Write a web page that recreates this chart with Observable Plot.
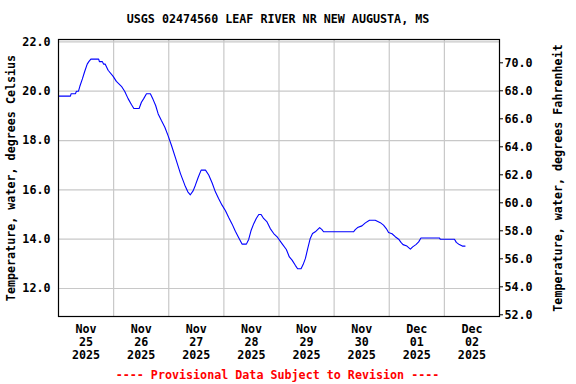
<!DOCTYPE html>
<html>
<head>
<meta charset="utf-8">
<script src="https://cdn.jsdelivr.net/npm/d3@7"></script>
<script src="https://cdn.jsdelivr.net/npm/@observablehq/plot@0.6"></script>
<style>
  html, body { margin: 0; padding: 0; background: #fff; }
  #wrap { position: relative; width: 576px; height: 384px; overflow: hidden; }
  .txt { position: absolute; font-family: "DejaVu Sans Mono", monospace; font-weight: bold; font-size: 11.7px; line-height: 14px; white-space: pre; text-align: center; }
  #title { top: 12px; left: 0; width: 556px; color: #000; }
  #caption { top: 368px; left: 0; width: 555px; color: #ff0000; }
</style>
</head>
<body>
<div id="wrap">
  <div id="chart"></div>
  <div id="title" class="txt"></div>
  <div id="caption" class="txt"></div>
</div>
<script>
// ---- data ----
const titleText = "USGS 02474560 LEAF RIVER NR NEW AUGUSTA, MS";
const captionText = "---- Provisional Data Subject to Revision ----";
const leftLabel = "Temperature, water, degrees Celsius";
const rightLabel = "Temperature, water, degrees Fahrenheit";

// hours since 2025-11-25 00:00
const hours = [0, 5.2, 5.5, 7.4, 7.8, 8.7, 9.3, 10.4, 11.4, 12.5, 13.2, 14.1, 17.5, 17.8, 19.1, 19.6, 20.3,
  21.6, 23.8, 25.2, 27.4, 28.8, 30.3, 31.8, 32.8, 35.1, 36.1, 37.1, 38.3, 40.0, 41.2, 42.3, 43.4, 44.8,
  46.3, 47.7, 49.2, 51.0, 53.1, 55.0, 56.3, 57.4, 58.6, 59.6, 60.8, 62.1, 64.0, 65.4, 66.9, 68.3, 69.7,
  71.2, 72.7, 74.1, 75.6, 77.0, 78.4, 79.9, 81.8, 82.8, 83.8, 85.0, 86.1, 87.2, 88.2, 89.3, 90.8, 92.2,
  93.7, 95.4, 97.3, 99.2, 100.5, 101.7, 103.1, 104.1, 105.6, 106.5, 107.5, 108.5, 109.6, 110.6, 111.8,
  112.8, 113.7, 114.7, 115.4, 128.5, 129.2, 130.2, 132.1, 133.6, 135.4, 137.9, 140.1, 141.5, 142.7,
  143.7, 145.2, 146.6, 148.1, 149.1, 150.0, 151.7, 153.2, 154.2, 155.6, 156.8, 157.8, 165.8, 166.2,
  172.4, 173.2, 174.5, 175.8, 177.0];
const tempC = [19.8, 19.8, 19.9, 19.9, 20.0, 20.0, 20.2, 20.5, 20.8, 21.1, 21.2, 21.3, 21.3, 21.2, 21.2, 21.1, 21.1,
  20.85, 20.6, 20.4, 20.2, 20.0, 19.7, 19.45, 19.3, 19.3, 19.55, 19.7, 19.9, 19.9, 19.66, 19.42, 19.08, 18.81,
  18.54, 18.2, 17.8, 17.28, 16.66, 16.19, 15.92, 15.8, 15.96, 16.19, 16.5, 16.8, 16.8, 16.6, 16.28, 15.92, 15.65,
  15.38, 15.15, 14.88, 14.61, 14.32, 14.07, 13.8, 13.8, 13.99, 14.34, 14.63, 14.84, 15.0, 15.0, 14.84, 14.7, 14.43,
  14.23, 14.07, 13.82, 13.58, 13.28, 13.15, 12.94, 12.8, 12.8, 12.97, 13.22, 13.62, 14.03, 14.23, 14.3,
  14.39, 14.47, 14.39, 14.3, 14.3, 14.39, 14.47, 14.54, 14.66, 14.77, 14.77, 14.67, 14.57, 14.43,
  14.27, 14.22, 14.1, 14.0, 13.87, 13.78, 13.72, 13.6, 13.69, 13.78, 13.89, 14.05, 14.05, 14.0,
  14.0, 13.87, 13.78, 13.72, 13.72];

const tickMonth = ["Nov", "Nov", "Nov", "Nov", "Nov", "Nov", "Dec", "Dec"];
const tickDay = ["25", "26", "27", "28", "29", "30", "01", "02"];
const tickYear = ["2025", "2025", "2025", "2025", "2025", "2025", "2025", "2025"];
const cTicks = [12, 14, 16, 18, 20, 22];
const fTicks = [52, 54, 56, 58, 60, 62, 64, 66, 68, 70];

// ---- build ----
const start = Date.UTC(2025, 10, 25);
const dayMs = 864e5;
const data = hours.map((h, i) => ({ t: new Date(start + h * 3600e3), c: tempC[i] }));
const midnights = d3.range(0, 9).map(i => new Date(start + i * dayMs));
const noons = d3.range(0, 8).map(i => new Date(start + (i + 0.5) * dayMs));

// secondary (Fahrenheit) axis is drawn independently of the Celsius gridlines
const yTop = 39, yBot = 316;
const cDomain = [10.865, 22.097];
const cToPx = c => yBot - (c - cDomain[0]) / (cDomain[1] - cDomain[0]) * (yBot - yTop);
const pxToC = p => cDomain[0] + (yBot - p) / (yBot - yTop) * (cDomain[1] - cDomain[0]);
const fToPx = f => 62.3 + (70 - f) * 14;
const pxToF = p => 70 - (p - 62.3) / 14;
const fToCpos = f => pxToC(fToPx(f));
const cposToF = c => pxToF(cToPx(c));

const font = { fontFamily: "DejaVu Sans Mono", fontSize: 11.7, fontWeight: "bold" };

const chart = Plot.plot({
  width: 576,
  height: 384,
  marginTop: yTop,
  marginBottom: 384 - yBot,
  marginLeft: 58,
  marginRight: 77,
  style: { fontFamily: "DejaVu Sans Mono", fontSize: "11.7px", fontWeight: "bold", background: "#fff", color: "#000" },
  x: { type: "utc", domain: [midnights[0], midnights[8]] },
  y: { domain: cDomain },
  marks: [
    Plot.gridY({ ticks: cTicks, stroke: "#c8c8c8", strokeOpacity: 1, strokeWidth: 1.2 }),
    Plot.gridX({ ticks: midnights.slice(1, 8), stroke: "#c8c8c8", strokeOpacity: 1, strokeWidth: 1.2 }),
    Plot.line(data, { x: "t", y: "c", stroke: "#0000ff", strokeWidth: 1.1 }),
    Plot.frame({ stroke: "#000", strokeWidth: 1.2 }),
    Plot.axisY({
      ticks: cTicks, tickSize: 0, tickPadding: 8, tickFormat: d => d.toFixed(1),
      label: leftLabel, labelAnchor: "center", labelOffset: 52, labelArrow: "none", ...font
    }),
    Plot.axisY({
      anchor: "right", ticks: fTicks.map(fToCpos), tickSize: 3, tickPadding: 2,
      tickFormat: d => cposToF(d).toFixed(1),
      label: rightLabel, labelAnchor: "center", labelOffset: 62, labelArrow: "none", ...font
    }),
    Plot.axisX({
      ticks: noons, tickSize: 0, tickPadding: 7, lineHeight: 1.11,
      tickFormat: d => {
        const i = Math.floor((+d - start) / dayMs);
        return `${tickMonth[i]}\n${tickDay[i]}\n${tickYear[i]}`;
      },
      label: null, ...font
    })
  ]
});

document.getElementById("chart").appendChild(chart);
document.getElementById("title").textContent = titleText;
document.getElementById("caption").textContent = captionText;
</script>
</body>
</html>
